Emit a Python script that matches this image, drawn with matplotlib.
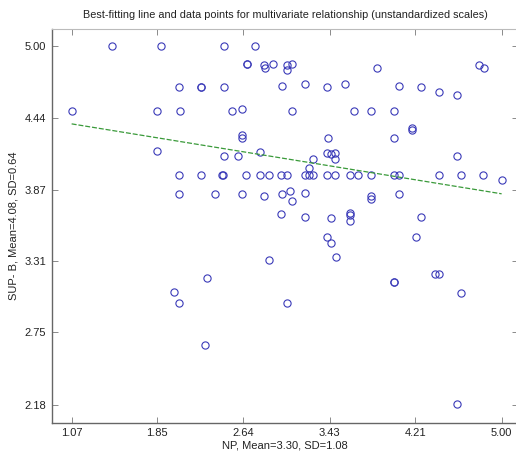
import matplotlib
matplotlib.use("Agg")
import matplotlib.pyplot as plt

plt.rcParams['font.family'] = ['Liberation Sans', 'DejaVu Sans']

# NP values (x) and SUP-B values (y)
np_vals = [1.07, 1.44, 1.89, 2.46, 2.75, 2.67, 2.67, 2.83, 2.84, 2.91,
           3.04, 3.08, 3.04, 3.86, 4.79, 4.84, 2.05, 2.25, 2.25, 2.46,
           2.99, 3.20, 3.40, 3.57, 4.06, 4.26, 4.43, 4.59, 1.85, 2.06,
           2.54, 2.63, 3.08, 3.65, 3.81, 4.02, 2.63, 2.63, 4.18, 4.18,
           3.41, 4.02, 1.85, 2.46, 2.59, 2.79, 3.40, 3.44, 3.48, 3.48,
           3.28, 4.59, 3.24, 2.05, 2.25, 2.44, 2.45, 2.66, 2.79, 2.87,
           2.98, 3.04, 3.20, 3.24, 3.28, 3.40, 3.48, 3.61, 3.69, 3.81,
           4.02, 4.06, 4.43, 4.63, 4.83, 5.00, 2.05, 2.38, 2.63, 2.83,
           2.99, 3.07, 3.08, 3.20, 3.81, 3.81, 4.06, 2.98, 3.20, 3.44,
           3.61, 3.61, 3.61, 4.26, 3.40, 3.44, 4.22, 3.49, 2.87, 4.39,
           4.43, 4.02, 4.02, 4.63, 2.31, 2.01, 2.05, 2.29, 3.04, 4.59]
sup_vals = [4.49, 5.00, 5.00, 5.00, 5.00, 4.86, 4.86, 4.85, 4.83, 4.86,
            4.85, 4.86, 4.81, 4.83, 4.85, 4.83, 4.68, 4.68, 4.68, 4.68,
            4.69, 4.70, 4.68, 4.70, 4.69, 4.68, 4.64, 4.62, 4.49, 4.49,
            4.49, 4.51, 4.49, 4.49, 4.49, 4.49, 4.30, 4.28, 4.34, 4.36,
            4.28, 4.28, 4.18, 4.14, 4.14, 4.17, 4.16, 4.15, 4.16, 4.11,
            4.11, 4.14, 4.04, 3.99, 3.99, 3.99, 3.99, 3.99, 3.99, 3.99,
            3.99, 3.99, 3.99, 3.99, 3.99, 3.99, 3.99, 3.99, 3.99, 3.99,
            3.99, 3.99, 3.99, 3.99, 3.99, 3.95, 3.84, 3.84, 3.84, 3.82,
            3.84, 3.86, 3.78, 3.85, 3.82, 3.80, 3.84, 3.68, 3.66, 3.65,
            3.69, 3.67, 3.63, 3.66, 3.50, 3.45, 3.50, 3.34, 3.32, 3.21,
            3.21, 3.15, 3.15, 3.06, 3.18, 3.07, 2.98, 2.65, 2.98, 2.19]

# Best-fitting line endpoints
fit_x = [1.07, 5.00]
fit_y = [4.39, 3.84]

x_ticks = [1.07, 1.85, 2.64, 3.43, 4.21, 5.00]
y_ticks = [2.18, 2.75, 3.31, 3.87, 4.44, 5.00]
x_ticklabels = ['1.07', '1.85', '2.64', '3.43', '4.21', '5.00']
y_ticklabels = ['2.18', '2.75', '3.31', '3.87', '4.44', '5.00']

title = 'Best-fitting line and data points for multivariate relationship (unstandardized scales)'
xlabel = 'NP, Mean=3.30, SD=1.08'
ylabel = 'SUP- B, Mean=4.08, SD=0.64'

fig = plt.figure(figsize=(5.16, 4.54), dpi=100)
ax = fig.add_axes([51.5/516, 1 - 422.7/454, (517.5 - 51.5)/516, (422.7 - 28.5)/454])

ax.plot(np_vals, sup_vals, linestyle='none', marker='o', markersize=5.2,
        markerfacecolor='none', markeredgecolor='#3a3ab8', markeredgewidth=0.8)
ax.plot(fit_x, fit_y, linestyle=(0, (4, 1.5)), color='#3a9a3a', linewidth=0.9)

ax.set_xlim(0.886, 5.145)
ax.set_ylim(2.04, 5.14)
ax.set_xticks(x_ticks)
ax.set_xticklabels(x_ticklabels)
ax.set_yticks(y_ticks)
ax.set_yticklabels(y_ticklabels)
ax.tick_params(direction='in', length=4, width=0.6, colors='#777777',
               labelcolor='#222222', labelsize=8, top=True, right=True, pad=4)

for side in ['left', 'bottom']:
    ax.spines[side].set_color('#666666')
    ax.spines[side].set_linewidth(1.0)
for side in ['top', 'right']:
    ax.spines[side].set_color('#bbbbbb')
    ax.spines[side].set_linewidth(0.8)

fig.text(285/516, 1 - 15/454, title, ha='center', va='center', fontsize=7.8, color='#222222')
fig.text(285/516, 1 - 446/454, xlabel, ha='center', va='center', fontsize=8, color='#222222')
fig.text(14/516, 1 - 226/454, ylabel, ha='center', va='center', rotation=90, fontsize=8, color='#222222')

fig.savefig('out.png', dpi=100)
